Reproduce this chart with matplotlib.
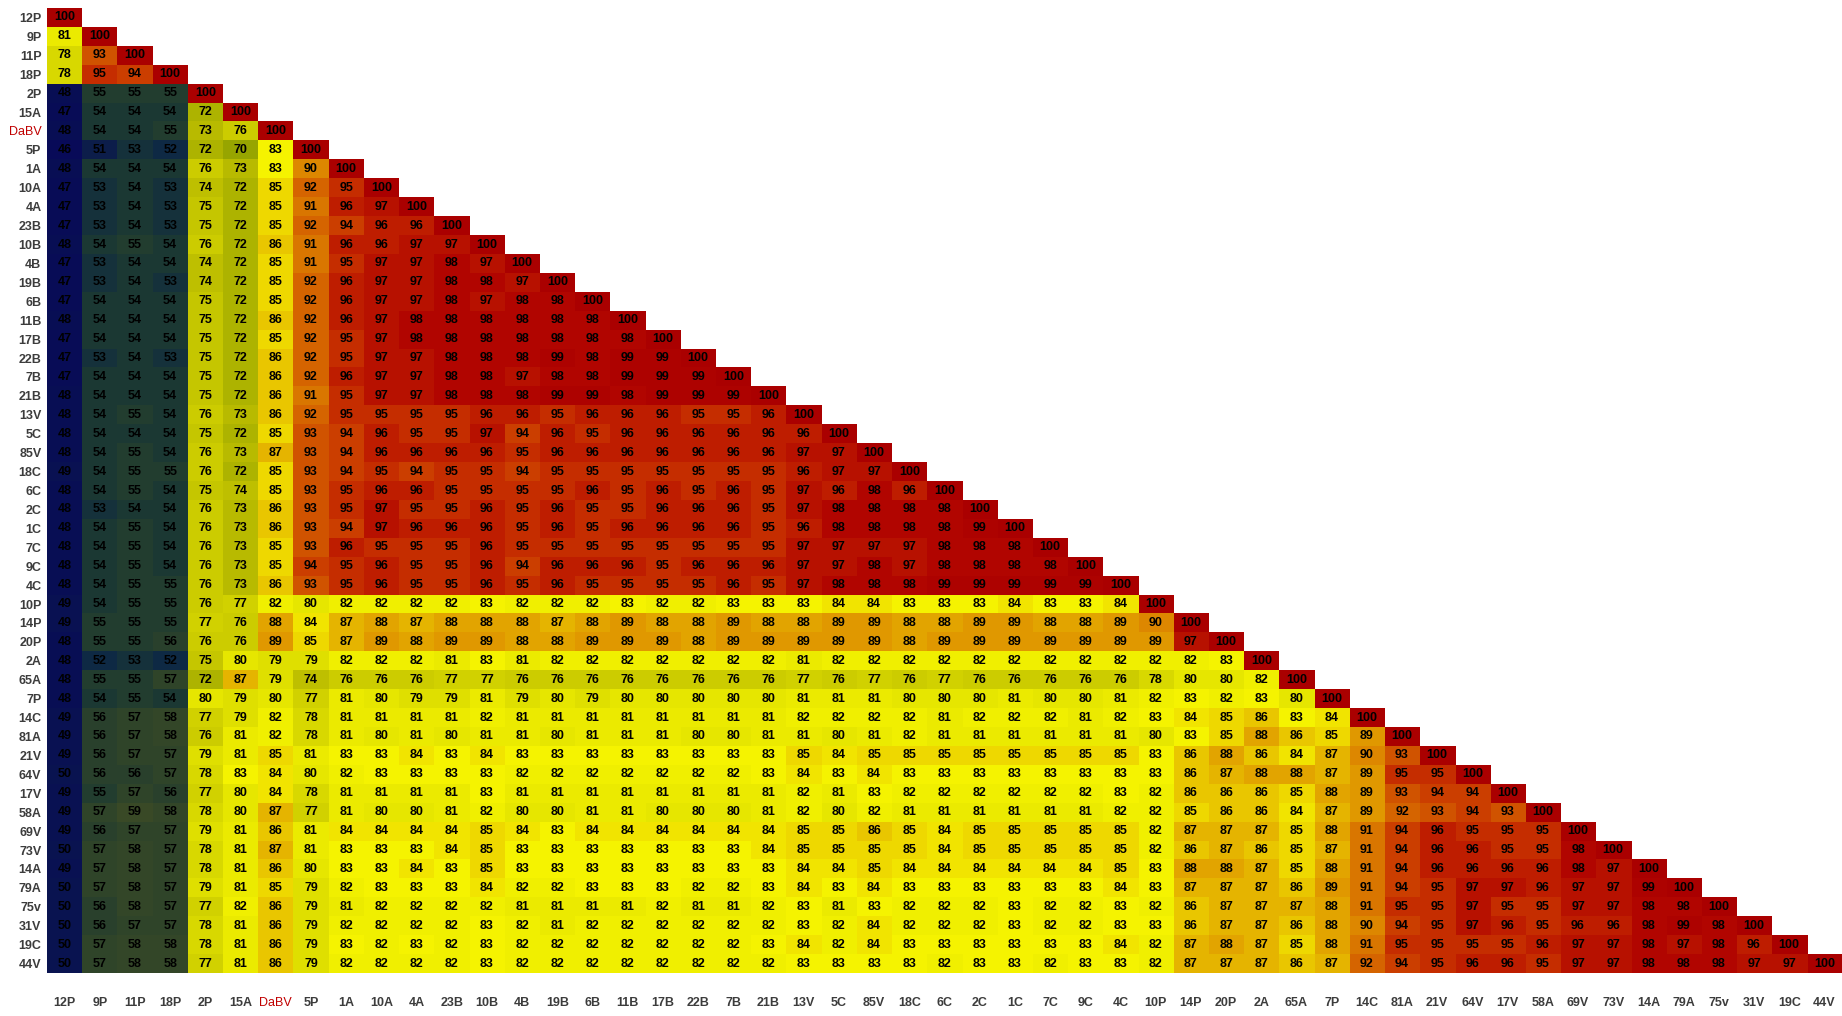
import numpy as np
import matplotlib
matplotlib.use("Agg")
import matplotlib.pyplot as plt
from matplotlib.colors import LinearSegmentedColormap

# isolate names (same order on both axes)
labels = ["12P", "9P", "11P", "18P", "2P", "15A", "DaBV", "5P", "1A", "10A", "4A",
          "23B", "10B", "4B", "19B", "6B", "11B", "17B", "22B", "7B", "21B", "13V",
          "5C", "85V", "18C", "6C", "2C", "1C", "7C", "9C", "4C", "10P", "14P", "20P",
          "2A", "65A", "7P", "14C", "81A", "21V", "64V", "17V", "58A", "69V", "73V",
          "14A", "79A", "75v", "31V", "19C", "44V"]

# % identity, lower triangle, one list per row
rows = [
    [100],
    [81, 100],
    [78, 93, 100],
    [78, 95, 94, 100],
    [48, 55, 55, 55, 100],
    [47, 54, 54, 54, 72, 100],
    [48, 54, 54, 55, 73, 76, 100],
    [46, 51, 53, 52, 72, 70, 83, 100],
    [48, 54, 54, 54, 76, 73, 83, 90, 100],
    [47, 53, 54, 53, 74, 72, 85, 92, 95, 100],
    [47, 53, 54, 53, 75, 72, 85, 91, 96, 97, 100],
    [47, 53, 54, 53, 75, 72, 85, 92, 94, 96, 96, 100],
    [48, 54, 55, 54, 76, 72, 86, 91, 96, 96, 97, 97, 100],
    [47, 53, 54, 54, 74, 72, 85, 91, 95, 97, 97, 98, 97, 100],
    [47, 53, 54, 53, 74, 72, 85, 92, 96, 97, 97, 98, 98, 97, 100],
    [47, 54, 54, 54, 75, 72, 85, 92, 96, 97, 97, 98, 97, 98, 98, 100],
    [48, 54, 54, 54, 75, 72, 86, 92, 96, 97, 98, 98, 98, 98, 98, 98, 100],
    [47, 54, 54, 54, 75, 72, 85, 92, 95, 97, 98, 98, 98, 98, 98, 98, 98, 100],
    [47, 53, 54, 53, 75, 72, 86, 92, 95, 97, 97, 98, 98, 98, 99, 98, 99, 99, 100],
    [47, 54, 54, 54, 75, 72, 86, 92, 96, 97, 97, 98, 98, 97, 98, 98, 99, 99, 99, 100],
    [48, 54, 54, 54, 75, 72, 86, 91, 95, 97, 97, 98, 98, 98, 99, 99, 98, 99, 99, 99, 100],
    [48, 54, 55, 54, 76, 73, 86, 92, 95, 95, 95, 95, 96, 96, 95, 96, 96, 96, 95, 95, 96, 100],
    [48, 54, 54, 54, 75, 72, 85, 93, 94, 96, 95, 95, 97, 94, 96, 95, 96, 96, 96, 96, 96, 96, 100],
    [48, 54, 55, 54, 76, 73, 87, 93, 94, 96, 96, 96, 96, 95, 96, 96, 96, 96, 96, 96, 96, 97, 97, 100],
    [49, 54, 55, 55, 76, 72, 85, 93, 94, 95, 94, 95, 95, 94, 95, 95, 95, 95, 95, 95, 95, 96, 97, 97, 100],
    [48, 54, 55, 54, 75, 74, 85, 93, 95, 96, 96, 95, 95, 95, 95, 96, 95, 96, 95, 96, 95, 97, 96, 98, 96, 100],
    [48, 53, 54, 54, 76, 73, 86, 93, 95, 97, 95, 95, 96, 95, 96, 95, 95, 96, 96, 96, 95, 97, 98, 98, 98, 98, 100],
    [48, 54, 55, 54, 76, 73, 86, 93, 94, 97, 96, 96, 96, 95, 96, 95, 96, 96, 96, 96, 95, 96, 98, 98, 98, 98, 99, 100],
    [48, 54, 55, 54, 76, 73, 85, 93, 96, 95, 95, 95, 96, 95, 95, 95, 95, 95, 95, 95, 95, 97, 97, 97, 97, 98, 98, 98, 100],
    [48, 54, 55, 54, 76, 73, 85, 94, 95, 96, 95, 95, 96, 94, 96, 96, 96, 95, 96, 96, 96, 97, 97, 98, 97, 98, 98, 98, 98, 100],
    [48, 54, 55, 55, 76, 73, 86, 93, 95, 96, 95, 95, 96, 95, 96, 95, 95, 95, 95, 96, 95, 97, 98, 98, 98, 99, 99, 99, 99, 99, 100],
    [49, 54, 55, 55, 76, 77, 82, 80, 82, 82, 82, 82, 83, 82, 82, 82, 83, 82, 82, 83, 83, 83, 84, 84, 83, 83,
     83, 84, 83, 83, 84, 100],
    [49, 55, 55, 55, 77, 76, 88, 84, 87, 88, 87, 88, 88, 88, 87, 88, 89, 88, 88, 89, 88, 88, 89, 89, 88, 88,
     89, 89, 88, 88, 89, 90, 100],
    [48, 55, 55, 56, 76, 76, 89, 85, 87, 89, 88, 89, 89, 88, 88, 89, 89, 89, 88, 89, 89, 89, 89, 89, 88, 89,
     89, 89, 89, 89, 89, 89, 97, 100],
    [48, 52, 53, 52, 75, 80, 79, 79, 82, 82, 82, 81, 83, 81, 82, 82, 82, 82, 82, 82, 82, 81, 82, 82, 82, 82,
     82, 82, 82, 82, 82, 82, 82, 83, 100],
    [48, 55, 55, 57, 72, 87, 79, 74, 76, 76, 76, 77, 77, 76, 76, 76, 76, 76, 76, 76, 76, 77, 76, 77, 76, 77,
     76, 76, 76, 76, 76, 78, 80, 80, 82, 100],
    [48, 54, 55, 54, 80, 79, 80, 77, 81, 80, 79, 79, 81, 79, 80, 79, 80, 80, 80, 80, 80, 81, 81, 81, 80, 80,
     80, 81, 80, 80, 81, 82, 83, 82, 83, 80, 100],
    [49, 56, 57, 58, 77, 79, 82, 78, 81, 81, 81, 81, 82, 81, 81, 81, 81, 81, 81, 81, 81, 82, 82, 82, 82, 81,
     82, 82, 82, 81, 82, 83, 84, 85, 86, 83, 84, 100],
    [49, 56, 57, 58, 76, 81, 82, 78, 81, 80, 81, 80, 81, 81, 80, 81, 81, 81, 80, 80, 81, 81, 80, 81, 82, 81,
     81, 81, 81, 81, 81, 80, 83, 85, 88, 86, 85, 89, 100],
    [49, 56, 57, 57, 79, 81, 85, 81, 83, 83, 84, 83, 84, 83, 83, 83, 83, 83, 83, 83, 83, 85, 84, 85, 85, 85,
     85, 85, 85, 85, 85, 83, 86, 88, 86, 84, 87, 90, 93, 100],
    [50, 56, 56, 57, 78, 83, 84, 80, 82, 83, 83, 83, 83, 82, 82, 82, 82, 82, 82, 82, 83, 84, 83, 84, 83, 83,
     83, 83, 83, 83, 83, 83, 86, 87, 88, 88, 87, 89, 95, 95, 100],
    [49, 55, 57, 56, 77, 80, 84, 78, 81, 81, 81, 81, 83, 81, 81, 81, 81, 81, 81, 81, 81, 82, 81, 83, 82, 82,
     82, 82, 82, 82, 83, 82, 86, 86, 86, 85, 88, 89, 93, 94, 94, 100],
    [49, 57, 59, 58, 78, 80, 87, 77, 81, 80, 80, 81, 82, 80, 80, 81, 81, 80, 80, 80, 81, 82, 80, 82, 81, 81,
     81, 81, 81, 81, 82, 82, 85, 86, 86, 84, 87, 89, 92, 93, 94, 93, 100],
    [49, 56, 57, 57, 79, 81, 86, 81, 84, 84, 84, 84, 85, 84, 83, 84, 84, 84, 84, 84, 84, 85, 85, 86, 85, 84,
     85, 85, 85, 85, 85, 82, 87, 87, 87, 85, 88, 91, 94, 96, 95, 95, 95, 100],
    [50, 57, 58, 57, 78, 81, 87, 81, 83, 83, 83, 84, 85, 83, 83, 83, 83, 83, 83, 83, 84, 85, 85, 85, 85, 84,
     85, 85, 85, 85, 85, 82, 86, 87, 86, 85, 87, 91, 94, 96, 96, 95, 95, 98, 100],
    [49, 57, 58, 57, 78, 81, 86, 80, 83, 83, 84, 83, 85, 83, 83, 83, 83, 83, 83, 83, 83, 84, 84, 85, 84, 84,
     84, 84, 84, 84, 85, 83, 88, 88, 87, 85, 88, 91, 94, 96, 96, 96, 96, 98, 97, 100],
    [50, 57, 58, 57, 79, 81, 85, 79, 82, 83, 83, 83, 84, 82, 82, 83, 83, 83, 82, 82, 83, 84, 83, 84, 83, 83,
     83, 83, 83, 83, 84, 83, 87, 87, 87, 86, 89, 91, 94, 95, 97, 97, 96, 97, 97, 99, 100],
    [50, 56, 58, 57, 77, 82, 86, 79, 81, 82, 82, 82, 82, 81, 81, 81, 81, 82, 81, 81, 82, 83, 81, 83, 82, 82,
     82, 83, 82, 82, 83, 82, 86, 87, 87, 87, 88, 91, 95, 95, 97, 95, 95, 97, 97, 98, 98, 100],
    [50, 56, 57, 57, 78, 81, 86, 79, 82, 82, 82, 82, 83, 82, 81, 82, 82, 82, 82, 82, 82, 83, 82, 84, 82, 82,
     82, 83, 82, 82, 83, 83, 86, 87, 87, 86, 88, 90, 94, 95, 97, 96, 95, 96, 96, 98, 99, 98, 100],
    [50, 57, 58, 58, 78, 81, 86, 79, 83, 82, 83, 82, 83, 82, 82, 82, 82, 82, 82, 82, 83, 84, 82, 84, 83, 83,
     83, 83, 83, 83, 84, 82, 87, 88, 87, 85, 88, 91, 95, 95, 95, 95, 96, 97, 97, 98, 97, 98, 96, 100],
    [50, 57, 58, 58, 77, 81, 86, 79, 82, 82, 82, 82, 83, 82, 82, 82, 82, 82, 82, 82, 82, 83, 83, 83, 83, 82,
     83, 83, 82, 83, 83, 82, 87, 87, 87, 86, 87, 92, 94, 95, 96, 96, 95, 97, 97, 98, 98, 98, 97, 97, 100],
]

highlight = "DaBV"

n = len(labels)
mat = np.full((n, n), np.nan)
for i, r in enumerate(rows):
    mat[i, :len(r)] = r
masked = np.ma.masked_invalid(mat)

# navy -> slate green -> olive -> yellow -> orange -> dark red
stops = [
    (46, "#080a58"), (50, "#0a1450"), (52, "#0f2a44"), (54, "#1d3a32"),
    (56, "#2a412c"), (59, "#3a4a26"), (70, "#98a600"), (73, "#b8ba00"),
    (76, "#cccc00"), (80, "#e6e600"), (83, "#f6f400"), (85, "#eed800"),
    (87, "#e6b600"), (89, "#e09800"), (90, "#de8800"), (92, "#d66800"),
    (94, "#cc4000"), (95, "#c63000"), (96, "#c02000"), (97, "#b81200"),
    (98, "#b20600"), (100, "#aa0000"),
]
vmin, vmax = stops[0][0], stops[-1][0]
cmap = LinearSegmentedColormap.from_list(
    "ident", [((v - vmin) / (vmax - vmin), c) for v, c in stops])
cmap.set_bad("white")

plt.rcParams["font.family"] = ["Liberation Sans", "DejaVu Sans"]

fig = plt.figure(figsize=(18.42, 10.16), dpi=100)
ax = fig.add_axes([47 / 1842, 1 - 973 / 1016, 1 - 47 / 1842, (973 - 8) / 1016])
ax.imshow(masked, cmap=cmap, vmin=vmin, vmax=vmax, aspect="auto",
          interpolation="nearest")

for i in range(n):
    for j in range(i + 1):
        ax.text(j, i, f"{mat[i, j]:.0f}", ha="center", va="center",
                fontsize=9, fontweight="bold", color="black")

ax.set_xticks(range(n))
ax.set_yticks(range(n))
ax.set_xticklabels(labels, fontsize=9, fontweight="bold", color="#3c3c3c")
ax.set_yticklabels(labels, fontsize=9, fontweight="bold", color="#3c3c3c")
ax.tick_params(length=0)
ax.tick_params(axis="x", pad=17)
ax.tick_params(axis="y", pad=4)
for lab in ax.get_xticklabels() + ax.get_yticklabels():
    if lab.get_text() == highlight:
        lab.set_color("#c00000")
        lab.set_fontweight("normal")
for s in ax.spines.values():
    s.set_visible(False)

fig.savefig("out.png", dpi=100, facecolor="white")
